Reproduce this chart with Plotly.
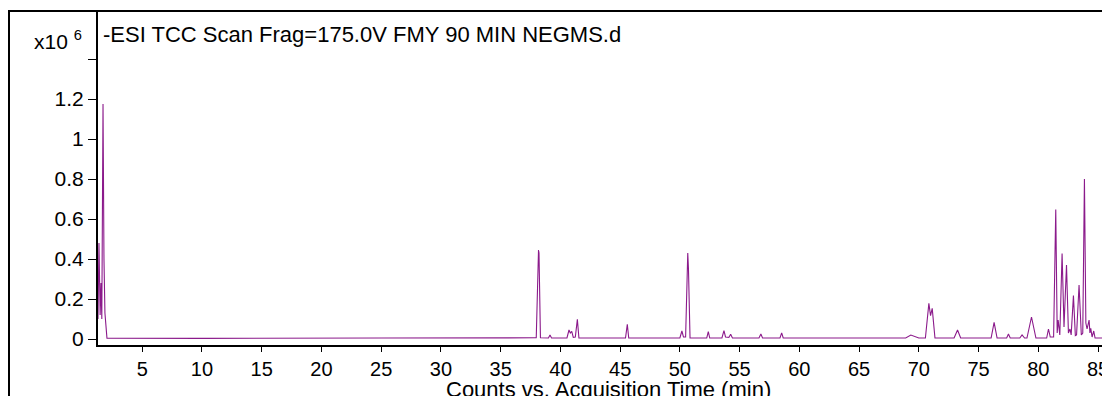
import plotly.graph_objects as go

# Chromatogram (TCC, negative ESI), intensity in counts x10^6
time_min = [
    1.30, 1.38, 1.48, 1.55, 1.62, 1.72, 1.80, 1.88, 2.05,
    10.0, 25.0, 37.98, 38.17, 38.21, 38.33,
    39.00, 39.13, 39.26,
    40.55, 40.72, 40.83, 40.95, 41.08, 41.25, 41.42, 41.55,
    45.45, 45.60, 45.72,
    50.00, 50.17, 50.30, 50.48, 50.66, 50.72, 50.85,
    52.25, 52.38, 52.50,
    53.52, 53.69, 53.82, 54.10, 54.25, 54.40,
    56.62, 56.78, 56.92,
    58.38, 58.52, 58.65,
    64.0, 68.90, 69.33, 69.70, 70.00,
    70.55, 70.84, 70.98, 71.12, 71.35,
    72.95, 73.24, 73.50,
    76.05, 76.30, 76.55,
    77.35, 77.50, 77.65,
    78.45, 78.64, 78.85,
    79.05, 79.43, 79.80,
    80.70, 80.85, 81.00,
    81.28, 81.46, 81.58, 81.66, 81.80, 81.99, 82.15, 82.36, 82.52, 82.65,
    82.75, 82.94, 83.10, 83.20, 83.41, 83.60, 83.72, 83.86, 83.98, 84.08,
    84.25, 84.32, 84.39, 84.50, 84.64, 84.75, 85.40, 85.56, 85.65, 85.80, 86.00,
]
counts_1e6 = [
    0.10, 0.48, 0.12, 0.28, 0.10, 1.175, 0.40, 0.13, 0.004,
    0.003, 0.005, 0.006, 0.445, 0.43, 0.006,
    0.005, 0.02, 0.005,
    0.005, 0.045, 0.03, 0.038, 0.008, 0.01, 0.098, 0.005,
    0.005, 0.073, 0.005,
    0.005, 0.04, 0.01, 0.01, 0.43, 0.35, 0.005,
    0.005, 0.037, 0.005,
    0.005, 0.042, 0.01, 0.008, 0.024, 0.005,
    0.005, 0.025, 0.005,
    0.005, 0.031, 0.005,
    0.004, 0.005, 0.02, 0.01, 0.005,
    0.005, 0.178, 0.117, 0.153, 0.005,
    0.005, 0.045, 0.005,
    0.005, 0.083, 0.005,
    0.005, 0.025, 0.005,
    0.005, 0.02, 0.005,
    0.005, 0.11, 0.005,
    0.005, 0.05, 0.01,
    0.01, 0.648, 0.03, 0.095, 0.02, 0.428, 0.06, 0.37, 0.03, 0.05,
    0.02, 0.217, 0.017, 0.02, 0.27, 0.02, 0.03, 0.80, 0.08, 0.05,
    0.095, 0.03, 0.053, 0.01, 0.04, 0.005, 0.005, 0.037, 0.01, 0.037, 0.02,
]

y_tick_vals = [0, 0.2, 0.4, 0.6, 0.8, 1.0, 1.2, 1.4]
y_tick_text = ["0", "0.2", "0.4", "0.6", "0.8", "1", "1.2", ""]
x_tick_vals = [5, 10, 15, 20, 25, 30, 35, 40, 45, 50, 55, 60, 65, 70, 75, 80, 85]

title_text = "-ESI TCC Scan Frag=175.0V FMY 90 MIN NEGMS.d"
x_title = "Counts vs. Acquisition Time (min)"

FONT = "Liberation Sans"
FS_TICK = 20
FS_TEXT = 22

# the page body adds an 8px offset; the figure fills the rest of the window
OFF = 8
W, H = 1110 - OFF, 396 - OFF
L, R, T, B = 90, 0, 3, 51
PW, PH = W - L - R, H - T - B


def px(xs):
    """screen x pixel -> paper coordinate"""
    return (xs - OFF - L) / PW


def py(ys):
    """screen y pixel -> paper coordinate"""
    return (H - B - (ys - OFF)) / PH


fig = go.Figure()
fig.add_trace(go.Scatter(
    x=time_min, y=counts_1e6, mode="lines",
    line=dict(color="#8B1A8B", width=1.1),
    hoverinfo="skip", showlegend=False,
))

fig.update_layout(
    width=W, height=H,
    margin=dict(l=L, r=R, t=T, b=B),
    paper_bgcolor="white", plot_bgcolor="white",
    font=dict(family=FONT, size=FS_TICK, color="black"),
    xaxis=dict(
        range=[1.3, 86.0], tickvals=x_tick_vals, automargin=False,
        showline=True, linecolor="black", linewidth=2,
        ticks="outside", ticklen=5, tickcolor="black", tickwidth=1,
        showgrid=False, zeroline=False,
        tickfont=dict(family=FONT, size=FS_TICK),
    ),
    yaxis=dict(
        range=[-0.03, 1.64], tickvals=y_tick_vals, ticktext=y_tick_text,
        automargin=False,
        showline=True, linecolor="black", linewidth=2,
        ticks="outside", ticklen=8, tickcolor="black", tickwidth=1,
        showgrid=False, zeroline=False,
        tickfont=dict(family=FONT, size=21),
    ),
)

# outer frame
fig.add_shape(type="rect", xref="paper", yref="paper",
              x0=px(9), x1=px(1125), y0=py(410), y1=py(11),
              line=dict(color="black", width=2), layer="above")

fig.add_annotation(text=title_text, xref="paper", yref="paper",
                   x=px(101), y=py(34),
                   xanchor="left", yanchor="middle", showarrow=False,
                   font=dict(family=FONT, size=FS_TEXT))
fig.add_annotation(text=x_title, xref="paper", yref="paper",
                   x=px(608), y=py(390),
                   xanchor="center", yanchor="middle", showarrow=False,
                   font=dict(family=FONT, size=FS_TEXT))
fig.add_annotation(text="x10&nbsp;<sup>6</sup>", xref="paper", yref="paper",
                   x=px(84), y=py(40),
                   xanchor="right", yanchor="middle", showarrow=False,
                   font=dict(family=FONT, size=21))

fig.write_html("out.html")
